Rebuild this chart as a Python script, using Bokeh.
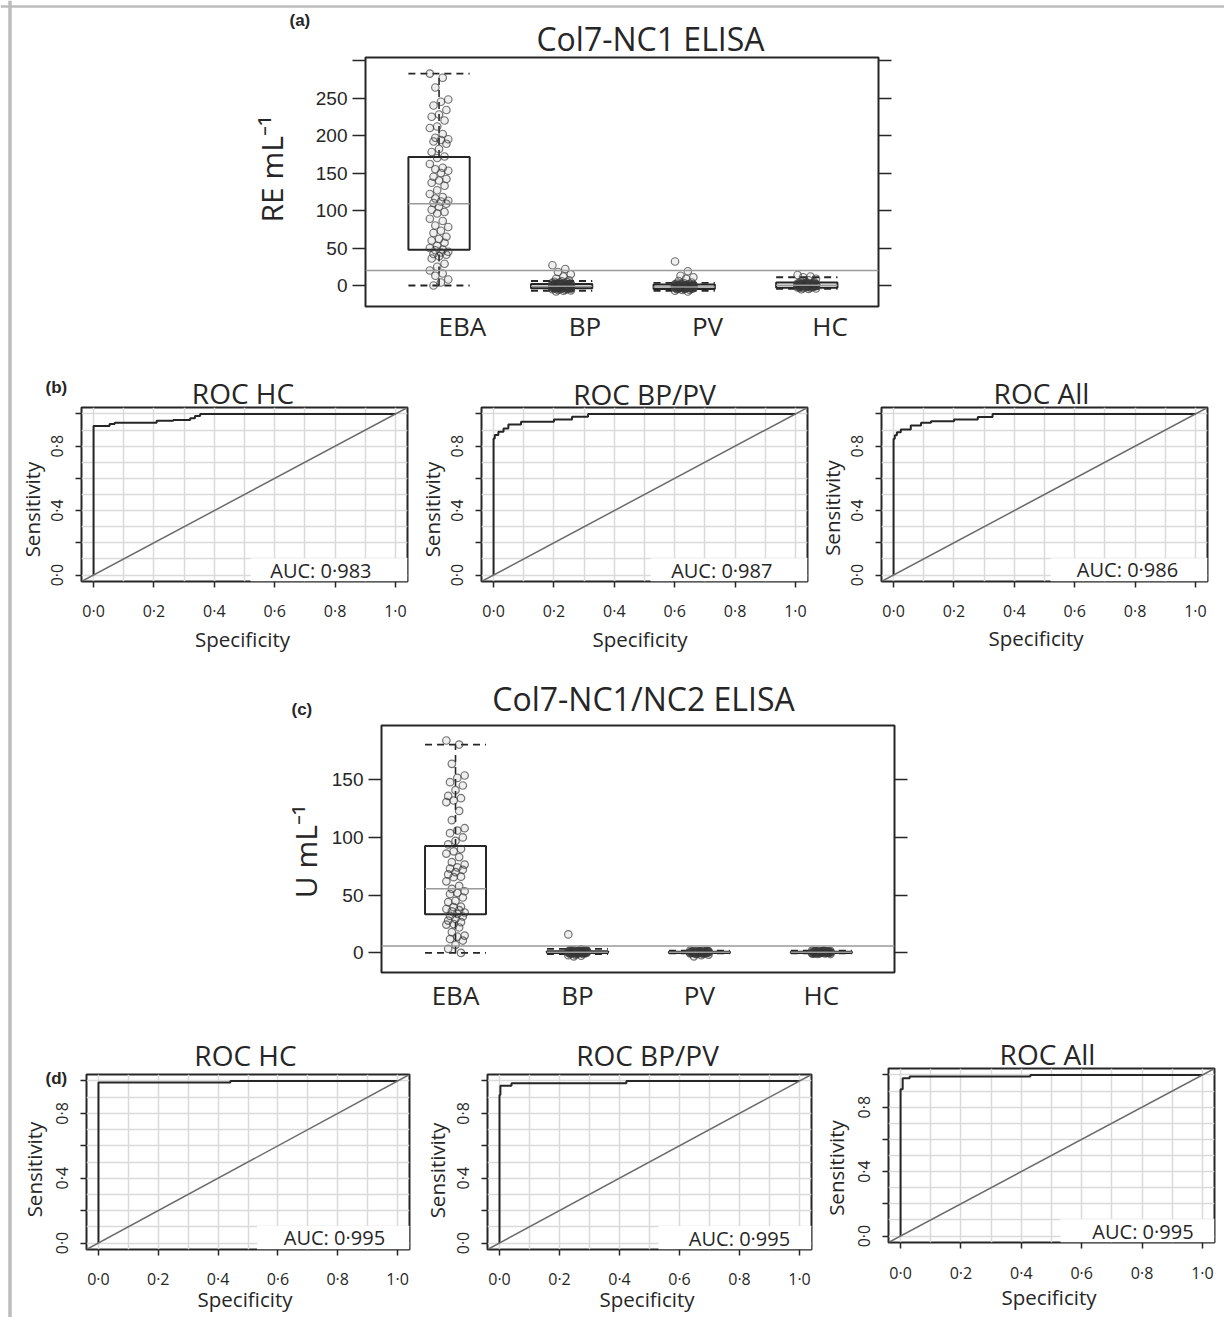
import numpy as np
from bokeh.plotting import figure
from bokeh.models import Range1d, FixedTicker, LinearAxis, Label, Span, Slope, GridBox
from bokeh.layouts import row, column
from bokeh.embed import file_html
from bokeh.resources import INLINE

# ---------------------------------------------------------------- data
groups = ["EBA", "BP", "PV", "HC"]

# (a) Col7-NC1 ELISA (RE mL-1)
a_eba = [282.6, 277, 264, 248, 245, 240, 234, 228, 225, 220, 212, 210, 202, 197,
         195, 194, 192, 189, 182, 178, 172, 170, 162, 157, 155, 153, 150, 145, 142,
         140, 137, 133, 127, 122, 118, 116, 113, 112, 110, 109, 105, 101, 98, 96,
         89, 86, 80, 78, 73, 70, 65, 62, 60, 57, 53, 50, 48, 47, 45, 44, 42, 41,
         39, 36, 29, 25, 20, 16, 13, 8, 4, 0]
a_bp = [27, 22, 18, 15, 12, 9, 7, 5.5, 5, 4.5, 4, 3.5, 3, 3, 2.5, 2.5, 2, 2, 1.5,
        1.5, 1.2, 1, 1, 0.8, 0.5, 0.5, 0.2, 0, 0, 0, -0.2, -0.5, -0.5, -0.8, -1,
        -1, -1.2, -1.5, -1.5, -1.8, -2, -2, -2.2, -2.5, -2.5, -2.8, -3, -3, -3.2,
        -3.5, -3.5, -4, -4, -4.5, -5, -5, -5.5, -6, -6.5, -7, -8,
        1.8, 1.4, 0.9, 0.6, 0.3, -0.1, -0.4, -0.7, -0.9, -1.1, -1.4, -1.7, -1.9,
        -2.1, -2.4, -2.7, -2.9, -3.3, -3.7, -4.2, 0.1, -0.3, -1.3, -2.3, 2.2, 1.1]
a_pv = [32, 19, 13, 11, 9, 6, 4, 3, 2.5, 2, 2, 1.5, 1, 1, 0.5, 0.5, 0, 0, -0.3,
        -0.5, -0.8, -1, -1, -1.2, -1.5, -1.5, -1.7, -2, -2, -2, -2.3, -2.5, -2.8,
        -3, -3, -3.2, -3.5, -3.5, -4, -4.2, -4.5, -5, -5.5, -6, -7, -8,
        1.2, 0.8, 0.3, -0.1, -0.4, -0.7, -0.9, -1.1, -1.4, -1.8, -2.1, -2.4,
        -2.6, -2.9, -3.1, -3.4, -3.8, -4.1, -1.3, -2.2, 0.6, -0.6]
a_hc = [14, 12, 11, 9, 7, 5, 4.5, 4, 3.5, 3, 3, 2.5, 2, 2, 1.8, 1.5, 1.2, 1, 1,
        0.8, 0.5, 0.2, 0, 0, 0, -0.3, -0.5, -0.8, -1, -1, -1.5, -1.8, -2, -2.5,
        -3, -3.5, -4, -4.5, -5,
        2.8, 2.2, 1.6, 1.1, 0.7, 0.4, 0.1, -0.2, -0.6, -0.9, -1.2, -1.6, -2.2,
        -2.7, 1.3, 0.6, -0.4, -1.3, 2.4, 0.9]
a_lo = [0, -7, -7, -4.5]
a_q1 = [47.7, -3.5, -4.5, -3]
a_med = [109, -1, -2, 0.5]
a_q3 = [171.4, 2, 1.5, 4]
a_hi = [282.6, 6, 3.5, 11]
a_cutoff = 20
a_yticks = [0, 50, 100, 150, 200, 250, 300]

# (c) Col7-NC1/NC2 ELISA (U mL-1)
c_eba = [184, 180.5, 163.8, 153.7, 151.6, 147.9, 145, 141, 136, 134, 132, 130.6,
         123, 115, 108, 106, 103.7, 100, 97, 94, 90, 88, 86, 83, 78.6, 76.5, 74,
         73, 72, 70, 68, 66, 65.6, 62, 58, 55.5, 53.4, 52, 51, 48, 45, 44, 40,
         39.6, 38, 37, 36, 35, 33.8, 32, 31.5, 29.5, 28, 26.6, 25, 24.5, 22, 18,
         15, 14, 12, 10.7, 7, 3.5, 0]
c_bp = [16, 3, 2.5, 2.2, 2, 2, 1.8, 1.5, 1.5, 1.4, 1.2, 1.2, 1, 1, 0.9, 0.8, 0.8,
        0.6, 0.5, 0.5, 0.4, 0.3, 0.2, 0.2, 0, 0, 0, -0.2, -0.3, -0.5, -0.8, -1,
        -1.5, -2, -2.5, -3,
        1.7, 1.3, 1.1, 0.7, 0.4, 0.1, -0.1, -0.4, 0.9, 0.6, 0.3, 1.6, 1.0, 0.5,
        0.2, -0.6, 2.4, 1.9]
c_pv = [2, 1.8, 1.5, 1.5, 1.2, 1.2, 1, 1, 0.9, 0.8, 0.8, 0.6, 0.5, 0.5, 0.3, 0.3,
        0.2, 0, 0, 0, -0.2, -0.3, -0.5, -0.8, -1, -1.5, -2, -3,
        1.7, 1.3, 1.1, 0.7, 0.4, 0.1, -0.1, -0.4, 0.9, 0.6, 0.3, 1.4, 1.0, 0.5,
        0.2, -0.6]
c_hc = [2, 1.8, 1.8, 1.5, 1.5, 1.4, 1.2, 1.2, 1, 1, 0.9, 0.8, 0.8, 0.6, 0.5, 0.5,
        0.3, 0.2, 0, 0, 0, -0.2, -0.3, -0.5, -0.8, -1,
        1.7, 1.3, 1.1, 0.7, 0.4, 0.1, -0.1, -0.4, 0.9, 0.6, 0.3, 1.6, 1.0, 0.5,
        0.2, -0.6]
c_lo = [0, -1, -0.5, -0.5]
c_q1 = [33.4, 0, 0, 0]
c_med = [55.5, 0.5, 0.5, 0.5]
c_q3 = [92.7, 1.5, 1, 1]
c_hi = [180.5, 3.5, 2, 2]
c_cutoff = 6
c_yticks = [0, 50, 100, 150]

# ROC curves (x as labelled "Specificity", y = sensitivity), step corners
roc_titles = ["ROC HC", "ROC BP/PV", "ROC All"]
b_x = [[0, 0, 0.053, 0.07, 0.209, 0.264, 0.32, 0.336, 0.353, 1.0],
       [0, 0, 0.004, 0.016, 0.033, 0.049, 0.091, 0.2, 0.26, 0.313, 1.0],
       [0, 0, 0.004, 0.011, 0.024, 0.057, 0.091, 0.124, 0.2, 0.279, 0.328, 1.0]]
b_y = [[0, 0.925, 0.937, 0.946, 0.958, 0.962, 0.973, 0.987, 1.0, 1.0],
       [0, 0.848, 0.869, 0.889, 0.91, 0.935, 0.952, 0.966, 0.983, 1.0, 1.0],
       [0, 0.846, 0.867, 0.887, 0.904, 0.929, 0.946, 0.954, 0.966, 0.981, 1.0, 1.0]]
b_auc = ["AUC: 0·983", "AUC: 0·987", "AUC: 0·986"]
d_x = [[0, 0, 0.441, 1.0],
       [0, 0, 0.003, 0.04, 0.423, 1.0],
       [0, 0, 0.007, 0.03, 0.43, 1.0]]
d_y = [[0, 0.99, 1.0, 1.0],
       [0, 0.914, 0.97, 0.986, 1.0, 1.0],
       [0, 0.911, 0.98, 0.99, 1.0, 1.0]]
d_auc = ["AUC: 0·995", "AUC: 0·995", "AUC: 0·995"]
roc_ticks = [0.0, 0.2, 0.4, 0.6, 0.8, 1.0]
roc_tick_labels = ["0·0", "0·2", "0·4", "0·6", "0·8", "1·0"]
roc_ylabel_keep = [True, False, True, False, True, False]

# ---------------------------------------------------------------- style
INK = "#262626"
GREY = "#9a9a9a"
SANS = "Open Sans"
NUM = "Liberation Sans"


def base_fig(w, h, bl, br, bt, bb, xr, yr):
    p = figure(width=w, height=h, x_range=Range1d(*xr), y_range=Range1d(*yr),
               min_border_left=bl, min_border_right=br, min_border_top=bt,
               min_border_bottom=bb, toolbar_location=None, tools="",
               output_backend="svg")
    p.outline_line_color = INK
    p.outline_line_width = 2
    p.background_fill_color = "white"
    p.border_fill_color = "white"
    return p


def style_ticks(ax, out, size, font, standoff):
    ax.major_tick_out = out
    ax.major_tick_in = 0
    ax.minor_tick_out = 0
    ax.minor_tick_in = 0
    ax.axis_line_color = None
    ax.major_tick_line_color = INK
    ax.major_tick_line_width = 1.5
    ax.major_label_text_font = font
    ax.major_label_text_font_size = f"{size}px"
    ax.major_label_text_color = INK
    ax.major_label_standoff = standoff


def box_fig(w, h, bl, br, bt, bb, xr, yr, series, lo, q1, med, q3, hi, cutoff,
            yticks, label_shift, cat_standoff):
    p = base_fig(w, h, bl, br, bt, bb, xr, yr)
    p.grid.visible = False
    pos = np.arange(1, len(groups) + 1, dtype=float)
    half = 0.25
    p.quad(left=pos - half, right=pos + half, bottom=q1, top=q3,
           fill_color="white", line_color=INK, line_width=2)
    p.segment(x0=pos, y0=q3, x1=pos, y1=hi, line_color=INK, line_width=1.6,
              line_dash="7 5")
    p.segment(x0=pos, y0=lo, x1=pos, y1=q1, line_color=INK, line_width=1.6,
              line_dash="7 5")
    p.segment(x0=pos - half, y0=hi, x1=pos + half, y1=hi, line_color=INK,
              line_width=1.8, line_dash="7 5")
    p.segment(x0=pos - half, y0=lo, x1=pos + half, y1=lo, line_color=INK,
              line_width=1.8, line_dash="7 5")
    for i, vals in enumerate(series):
        n = len(vals)
        jit = (((np.arange(n) * 7) % 11) / 10.0 - 0.5) * 0.15
        p.scatter(pos[i] + jit, vals, marker="circle", size=7.5,
                  fill_color="#1a1a1a", fill_alpha=0.07,
                  line_color="#3c3c3c", line_alpha=0.7, line_width=1.2)
    p.segment(x0=pos - half, y0=med, x1=pos + half, y1=med, line_color=GREY,
              line_width=1.5)
    p.add_layout(Span(location=cutoff, dimension="width", line_color=GREY,
                      line_width=1.5))

    ya = p.yaxis[0]
    ya.ticker = FixedTicker(ticks=yticks)
    ya.major_label_overrides = {t: ("" if t > 250 else str(t)) for t in yticks}
    style_ticks(ya, 13, 19, NUM, 5)
    ra = LinearAxis(ticker=FixedTicker(ticks=yticks),
                    major_label_overrides={t: "" for t in yticks})
    style_ticks(ra, 13, 19, NUM, 5)
    p.add_layout(ra, "right")

    xa = p.xaxis[0]
    lab_pos = [float(x + label_shift) for x in pos]
    xa.ticker = FixedTicker(ticks=lab_pos)
    xa.major_label_overrides = dict(zip(lab_pos, groups))
    style_ticks(xa, 0, 26, SANS, cat_standoff)
    xa.major_tick_line_color = None
    return p


def roc_fig(w, h, bl, br, bt, bb, xs, ys, auc, auc_xy, white_left, xstand):
    p = base_fig(w, h, bl, br, bt, bb, (-0.04, 1.04), (-0.04, 1.04))
    grid = [i / 10 for i in range(11)]
    p.xgrid.ticker = FixedTicker(ticks=grid)
    p.ygrid.ticker = FixedTicker(ticks=grid)
    p.grid.grid_line_color = "#dadada"
    p.grid.grid_line_width = 1.5
    p.quad(left=[white_left], right=[1.04], bottom=[-0.04], top=[0.105],
           fill_color="white", line_color=None)
    p.add_layout(Slope(gradient=1, y_intercept=0, line_color="#6b6b6b",
                       line_width=1.5))
    p.step(xs, ys, mode="after", line_color=INK, line_width=2)

    xa = p.xaxis[0]
    xa.ticker = FixedTicker(ticks=roc_ticks)
    xa.major_label_overrides = dict(zip(roc_ticks, roc_tick_labels))
    style_ticks(xa, 6, 16, SANS, xstand)
    ya = p.yaxis[0]
    ya.ticker = FixedTicker(ticks=roc_ticks)
    ya.major_label_overrides = {t: (l if k else "") for t, l, k in
                                zip(roc_ticks, roc_tick_labels, roc_ylabel_keep)}
    style_ticks(ya, 6, 16, SANS, 7)
    ya.major_label_orientation = "vertical"

    p.add_layout(Label(x=auc_xy[0], y=auc_xy[1], text=auc, text_font=SANS,
                       text_font_size="20px", text_color=INK, text_align="center",
                       text_baseline="middle"))
    return p


# ---------------------------------------------------------------- panels
PW, PH = 1224, 1317

fig_a = box_fig(PW, 352, 365, 346, 57, 46, (0.4, 4.585), (-28, 304),
                [a_eba, a_bp, a_pv, a_hc], a_lo, a_q1, a_med, a_q3, a_hi,
                a_cutoff, a_yticks, 0.19, 1)

b_geo = [(420, 81, 13), (400, 61, 13), (404, 61, 17)]
b_auc_xy = [(0.753, 0.027), (0.756, 0.03), (0.775, 0.033)]
b_figs = []
for i in range(3):
    w, bl, br = b_geo[i]
    b_figs.append(roc_fig(w, 310, bl, br, 55, 81, b_x[i], b_y[i], b_auc[i],
                          b_auc_xy[i], 0.52, 12))

fig_c = box_fig(PW, 358, 381, 330, 63, 48, (0.393, 4.6), (-17, 197),
                [c_eba, c_bp, c_pv, c_hc], c_lo, c_q1, c_med, c_q3, c_hi,
                c_cutoff, c_yticks, 0.0, 4)

d_geo = [(425, 86, 16, 54, 68), (400, 62, 14, 54, 68), (399, 63, 10, 48, 75)]
d_auc_xy = [(0.789, 0.035), (0.8, 0.027), (0.803, 0.027)]
d_xstand = [12, 12, 13]
d_figs = []
for i in range(3):
    w, bl, br, bt, bb = d_geo[i]
    d_figs.append(column(roc_fig(w, 297, bl, br, bt, bb, d_x[i], d_y[i], d_auc[i],
                                 d_auc_xy[i], 0.53, d_xstand[i])))

body = column(row(fig_a), row(*b_figs), row(fig_c), row(*d_figs))

# ---------------------------------------------------------------- text layer
# page-sized transparent layer holding titles, panel tags and axis titles
ov = figure(width=PW, height=PH, x_range=Range1d(0, PW), y_range=Range1d(PH, 0),
            min_border=0, min_border_left=0, min_border_right=0,
            min_border_top=0, min_border_bottom=0, toolbar_location=None,
            tools="", output_backend="svg", x_axis_type=None, y_axis_type=None)
ov.outline_line_color = None
ov.background_fill_color = None
ov.border_fill_color = None
ov.grid.visible = False


def txt(xp, yp, text, size, font=SANS, style="normal", angle=0.0, align="center"):
    ov.add_layout(Label(x=xp, y=yp, text=text, text_font=font,
                        text_font_size=f"{size}px", text_font_style=style,
                        text_color=INK, angle=angle, text_align=align,
                        text_baseline="middle"))


# frame lines of the figure
ov.add_layout(Span(location=9.5, dimension="height", line_color="#bdbdbd",
                   line_width=3.5))
ov.add_layout(Span(location=6, dimension="width", line_color="#bdbdbd",
                   line_width=2.5))

# panel (a)
txt(289, 19.5, "(a)", 17, font=NUM, style="bold", align="left")
txt(650, 37.5, "Col7-NC1 ELISA", 32)
txt(271, 168.5, "RE mL⁻¹", 30, angle=np.pi / 2)
# panel (b)
txt(45, 386.5, "(b)", 17, font=NUM, style="bold", align="left")
for (tx, ty), t in zip([(242.5, 392.5), (644, 393), (1041, 392.5)], roc_titles):
    txt(tx, ty, t, 28)
for sx, sy in [(31.6, 509), (431.6, 509), (831.6, 507.5)]:
    txt(sx, sy, "Sensitivity", 20.5, angle=np.pi / 2)
for sx, sy in [(242, 638), (639.5, 638), (1035.5, 637)]:
    txt(sx, sy, "Specificity", 20.5)
# panel (c)
txt(291, 708.5, "(c)", 17, font=NUM, style="bold", align="left")
txt(643, 698, "Col7-NC1/NC2 ELISA", 32)
txt(305, 851, "U mL⁻¹", 30, angle=np.pi / 2)
# panel (d)
txt(45, 1077.5, "(d)", 17, font=NUM, style="bold", align="left")
for (tx, ty), t in zip([(245, 1054), (647, 1054), (1047, 1053)], roc_titles):
    txt(tx, ty, t, 28)
for sx, sy in [(33.6, 1169), (436.6, 1170), (835.6, 1167.5)]:
    txt(sx, sy, "Sensitivity", 20.5, angle=np.pi / 2)
for sx, sy in [(244.5, 1298.5), (646.5, 1298.5), (1048.5, 1296.5)]:
    txt(sx, sy, "Specificity", 20.5)

root = GridBox(children=[(body, 0, 0), (ov, 0, 0)])

open("out.html", "w").write(file_html(root, INLINE))
